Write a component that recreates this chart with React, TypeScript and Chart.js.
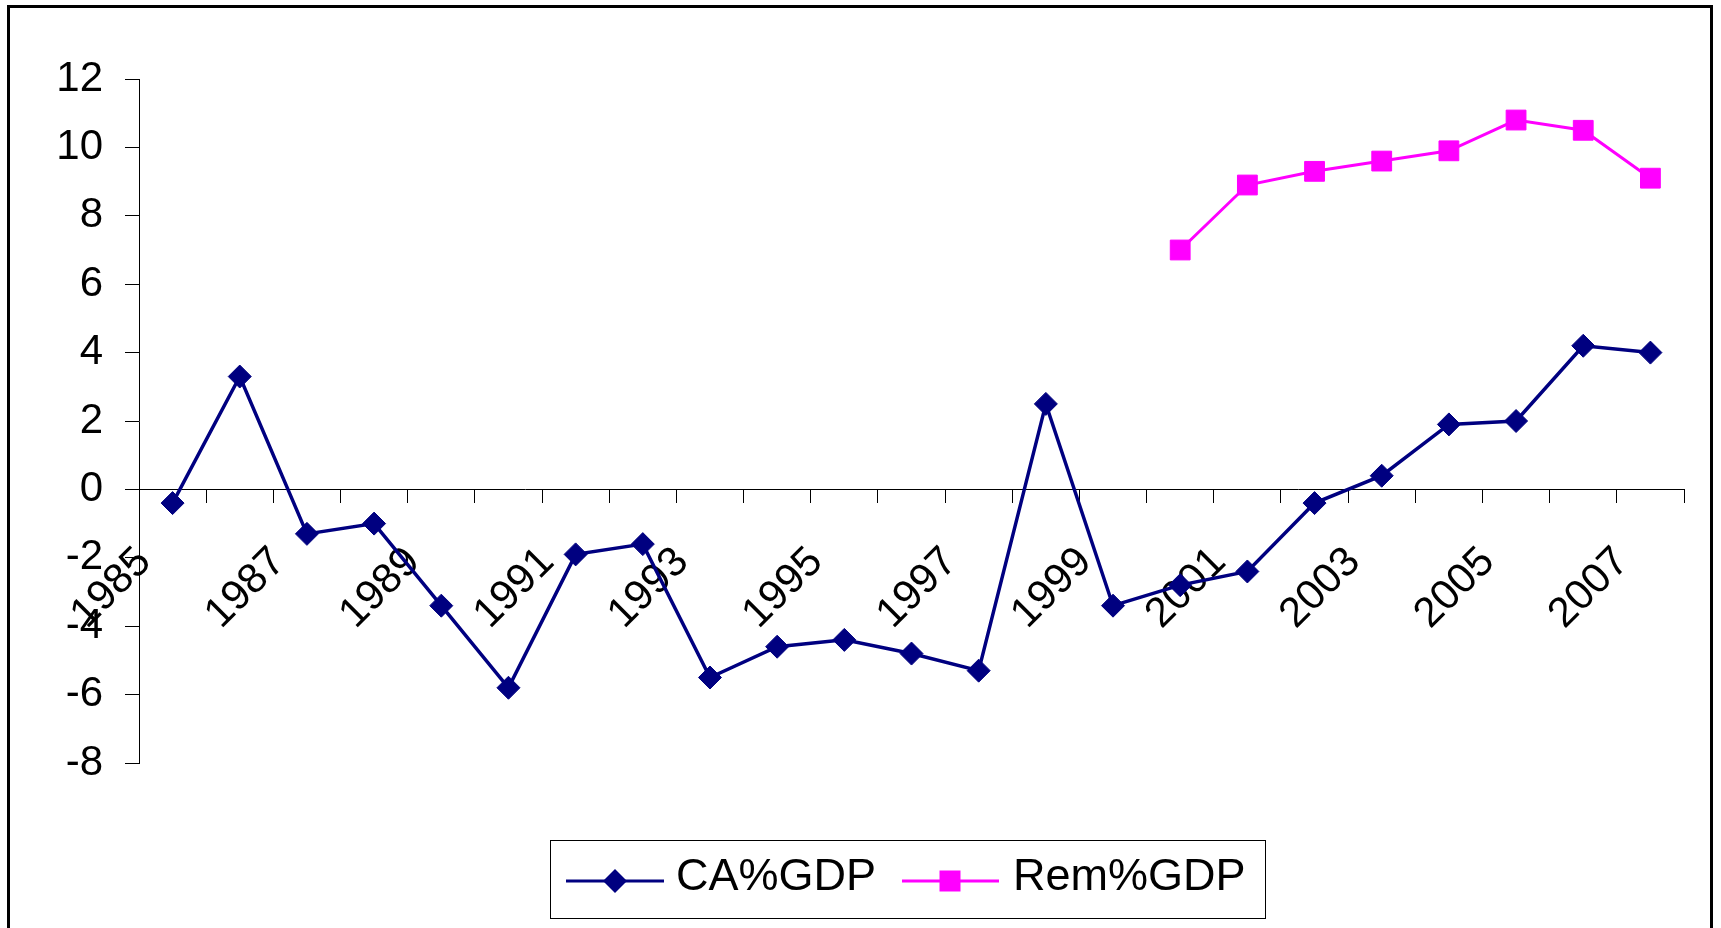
import React, { useEffect, useRef } from 'react';
import { Chart, registerables } from 'chart.js';

Chart.register(...registerables);

const years = [
  '1985', '1986', '1987', '1988', '1989', '1990', '1991', '1992', '1993', '1994', '1995', '1996',
  '1997', '1998', '1999', '2000', '2001', '2002', '2003', '2004', '2005', '2006', '2007',
];

const caGdp = [
  -0.4, 3.3, -1.3, -1.0, -3.4, -5.8, -1.9, -1.6, -5.5, -4.6, -4.4, -4.8,
  -5.3, 2.5, -3.4, -2.8, -2.4, -0.4, 0.4, 1.9, 2.0, 4.2, 4.0,
];

const remGdp = [
  null, null, null, null, null, null, null, null, null, null, null, null,
  null, null, null, 7.0, 8.9, 9.3, 9.6, 9.9, 10.8, 10.5, 9.1,
];

const seriesNames = ['CA%GDP', 'Rem%GDP'];
const seriesColors = ['#000080', '#FF00FF'];
const seriesMarkers = ['rectRot', 'rect'];

const yMin = -8;
const yMax = 12;
const yStep = 2;

const FONT = "'Liberation Sans', Arial, Helvetica, sans-serif";

function drawMarker(ctx: CanvasRenderingContext2D, style: string, x: number, y: number, half: number, color: string) {
  ctx.beginPath();
  if (style === 'rectRot') {
    ctx.moveTo(x - half, y);
    ctx.lineTo(x, y - half);
    ctx.lineTo(x + half, y);
    ctx.lineTo(x, y + half);
  } else {
    ctx.rect(x - half, y - half, half * 2, half * 2);
  }
  ctx.closePath();
  ctx.fillStyle = color;
  ctx.fill();
}

const boxLegend = {
  id: 'boxLegend',
  afterDraw(chart: any) {
    const ctx: CanvasRenderingContext2D = chart.ctx;
    const box = { x: 540, y: 832, w: 715, h: 78 };
    const lineY = 873;
    const items = [
      { lineStart: 556, lineEnd: 654, markerX: 605, half: 12, textX: 666 },
      { lineStart: 892, lineEnd: 989, markerX: 940, half: 10.5, textX: 1003 },
    ];
    ctx.save();
    ctx.strokeStyle = '#000';
    ctx.lineWidth = 1;
    ctx.strokeRect(box.x + 0.5, box.y + 0.5, box.w, box.h);
    chart.data.datasets.forEach((ds: any, i: number) => {
      const it = items[i];
      ctx.strokeStyle = ds.borderColor;
      ctx.lineWidth = 3;
      ctx.beginPath();
      ctx.moveTo(it.lineStart, lineY);
      ctx.lineTo(it.lineEnd, lineY);
      ctx.stroke();
      drawMarker(ctx, ds.pointStyle, it.markerX, lineY, it.half, ds.borderColor);
      ctx.fillStyle = '#000';
      ctx.font = `45px ${FONT}`;
      ctx.textBaseline = 'alphabetic';
      ctx.textAlign = 'left';
      ctx.fillText(ds.label, it.textX, 882);
    });
    ctx.restore();
  },
};

export default function App() {
  const canvasRef = useRef<HTMLCanvasElement | null>(null);

  useEffect(() => {
    if (!canvasRef.current) return;
    const chart = new Chart(canvasRef.current, {
      type: 'line',
      data: {
        labels: years,
        datasets: [
          {
            label: seriesNames[0],
            data: caGdp,
            borderColor: seriesColors[0],
            backgroundColor: seriesColors[0],
            borderWidth: 3.5,
            pointStyle: seriesMarkers[0] as any,
            pointRadius: 11.5,
            pointBorderWidth: 1,
            pointBackgroundColor: seriesColors[0],
            pointBorderColor: seriesColors[0],
            tension: 0,
          },
          {
            label: seriesNames[1],
            data: remGdp,
            borderColor: seriesColors[1],
            backgroundColor: seriesColors[1],
            borderWidth: 3,
            pointStyle: seriesMarkers[1] as any,
            pointRadius: 14,
            pointBorderWidth: 1,
            pointBackgroundColor: seriesColors[1],
            pointBorderColor: seriesColors[1],
            tension: 0,
          },
        ],
      },
      options: {
        responsive: false,
        animation: false,
        devicePixelRatio: 1,
        layout: { padding: { left: 0, right: 26, top: 71, bottom: 165 } },
        plugins: {
          legend: { display: false },
          tooltip: { enabled: false },
        },
        scales: {
          x: {
            type: 'category',
            position: { y: 0 } as any,
            offset: true,
            afterFit: (scale: any) => {
              scale.paddingLeft = 0;
              scale.paddingRight = 0;
            },
            grid: {
              display: true,
              drawOnChartArea: false,
              drawTicks: true,
              tickLength: 13,
              color: '#000',
              offset: true,
            },
            border: { display: true, color: '#000', width: 1 },
            ticks: {
              autoSkip: false,
              minRotation: 45,
              maxRotation: 45,
              padding: 35,
              labelOffset: -28,
              color: '#000',
              font: { family: FONT, size: 42 },
              callback: (_v: any, idx: number) => (idx % 2 === 0 ? years[idx] : ''),
            },
          },
          y: {
            type: 'linear',
            position: 'left',
            min: yMin,
            max: yMax,
            afterFit: (scale: any) => {
              scale.width = 129;
            },
            grid: {
              display: true,
              drawOnChartArea: false,
              drawTicks: true,
              tickLength: 14,
              color: '#000',
            },
            border: { display: true, color: '#000', width: 1 },
            ticks: {
              stepSize: yStep,
              padding: 22,
              color: '#000',
              font: { family: FONT, size: 42 },
            },
          },
        },
      },
      plugins: [boxLegend],
    });
    return () => chart.destroy();
  }, []);

  return (
    <div
      style={{
        position: 'absolute',
        left: 7,
        top: 5,
        width: 1700,
        height: 920,
        borderTop: '3px solid #000',
        borderLeft: '3px solid #000',
        borderRight: '3px solid #000',
        background: '#fff',
      }}
    >
      <canvas ref={canvasRef} width={1700} height={920} style={{ display: 'block', width: 1700, height: 920 }} />
    </div>
  );
}
